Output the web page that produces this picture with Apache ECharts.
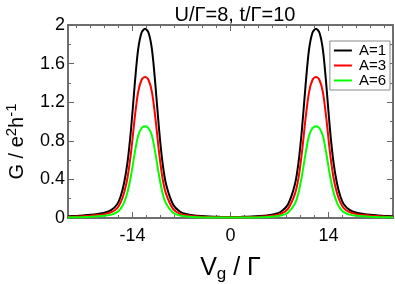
<!DOCTYPE html>
<html><head><meta charset="utf-8">
<script src="https://cdn.jsdelivr.net/npm/echarts@6/dist/echarts.min.js"></script>
<style>html,body{margin:0;padding:0;background:#fff}#c{width:395px;height:284px}</style>
</head><body><div id="c"></div>
<script>
const title = 'U/\u0393=8, t/\u0393=10';
const seriesNames = ['A=1', 'A=3', 'A=6'];
const xMajorTicks = [-14, 0, 14];
const xMinorTicks = [-22,-20,-18,-16,-14,-12,-10,-8,-6,-4,-2,0,2,4,6,8,10,12,14,16,18,20,22];
const vg = [-23.2,-22,-21,-20,-19,-18,-17,-16.2,-15.7,-15.2,-14.7,-14.2,-13.7,-13.2,-12.7,-12.2,-11.7,-11.2,-10.7,-10.2,-9.7,-9.2,-8.2,-7.2,-6.2,-5.2,-4.2,-3,-1.5,0,
  1.5,3,4.2,5.2,6.2,7.2,8.2,9.2,9.7,10.2,10.7,11.2,11.7,12.2,12.7,13.2,13.7,14.2,14.7,15.2,15.7,16.2,17,18,19,20,21,22,23.2];
const gA1 = [0.018,0.022,0.027,0.033,0.042,0.055,0.085,0.14,0.22,0.36,0.58,0.92,1.36,1.74,1.92,1.96,1.92,1.74,1.36,0.92,0.57,0.35,0.14,0.065,0.038,0.027,0.02,0.015,0.012,0.011,
  0.012,0.015,0.02,0.027,0.038,0.065,0.14,0.35,0.57,0.92,1.36,1.74,1.92,1.96,1.92,1.74,1.36,0.92,0.58,0.36,0.22,0.14,0.085,0.055,0.042,0.033,0.027,0.022,0.018];
const gA3 = [0.012,0.015,0.019,0.024,0.030,0.040,0.060,0.10,0.16,0.26,0.42,0.68,1.02,1.30,1.43,1.46,1.43,1.30,1.02,0.68,0.41,0.25,0.095,0.043,0.026,0.018,0.013,0.010,0.008,0.008,
  0.008,0.010,0.013,0.018,0.026,0.043,0.095,0.25,0.41,0.68,1.02,1.30,1.43,1.46,1.43,1.30,1.02,0.68,0.42,0.26,0.16,0.10,0.060,0.040,0.030,0.024,0.019,0.015,0.012];
const gA6 = [0.006,0.008,0.010,0.013,0.017,0.023,0.035,0.06,0.095,0.16,0.27,0.44,0.66,0.85,0.93,0.95,0.93,0.85,0.66,0.44,0.26,0.15,0.055,0.026,0.015,0.010,0.007,0.005,0.004,0.004,
  0.004,0.005,0.007,0.010,0.015,0.026,0.055,0.15,0.26,0.44,0.66,0.85,0.93,0.95,0.93,0.85,0.66,0.44,0.27,0.16,0.095,0.06,0.035,0.023,0.017,0.013,0.010,0.008,0.006];

const font = "'Liberation Sans', Arial, sans-serif";
const frame = '#666';
const pairs = arr => vg.map((x, i) => [x, arr[i]]);

function xAx(pos, ticks, len, labels) {
  return {
    type: 'value', position: pos, min: -23.2, max: 23.2,
    axisLine: { show: true, onZero: false, lineStyle: { color: frame, width: 1.5 } },
    axisTick: { show: true, inside: true, length: len, customValues: ticks, lineStyle: { color: frame, width: 1 } },
    axisLabel: labels ? { show: true, customValues: ticks, color: '#000', fontSize: 18, fontFamily: font, margin: 9 } : { show: false },
    splitLine: { show: false }
  };
}
function yAx(pos, interval, len, labels) {
  return {
    type: 'value', position: pos, min: 0, max: 2, interval: interval,
    axisLine: { show: true, onZero: false, lineStyle: { color: frame, width: 1.5 } },
    axisTick: { show: true, inside: true, length: len, lineStyle: { color: frame, width: 1 } },
    axisLabel: labels ? { show: true, color: '#000', fontSize: 18, fontFamily: font, margin: 3,
      formatter: v => (Math.round(v * 10) / 10).toString() } : { show: false },
    splitLine: { show: false }
  };
}

const xAxes = [xAx('bottom', xMajorTicks, 6, true), xAx('bottom', xMinorTicks, 3, false),
               xAx('top', xMajorTicks, 6, false), xAx('top', xMinorTicks, 3, false)];
xAxes[0].name = '{a|V}{s|g}{a| / \u0393}';
xAxes[0].nameLocation = 'middle';
xAxes[0].nameGap = 36;
xAxes[0].nameTextStyle = { rich: { a: { fontSize: 25, fontFamily: font, color: '#000' }, s: { fontSize: 17, fontFamily: font, color: '#000', verticalAlign: 'bottom', padding: [12, 0, 0, 0] } } };

const yAxes = [yAx('left', 0.4, 6, true), yAx('left', 0.2, 3, false), yAx('right', 0.4, 6, false), yAx('right', 0.2, 3, false)];
yAxes[0].name = '{a|G / e}{s|2}{a|h}{s|-1}';
yAxes[0].nameLocation = 'middle';
yAxes[0].nameGap = 38;
yAxes[0].nameTextStyle = { padding: [0, 40, 0, 0], rich: { a: { fontSize: 20, fontFamily: font, color: '#000' }, s: { fontSize: 15, fontFamily: font, color: '#000', verticalAlign: 'top', padding: [0, 0, 11, 0] } } };

const colors = ['#000000', '#ff0000', '#00ff00'];
const dataSets = [gA1, gA3, gA6];

const chart = echarts.init(document.getElementById('c'), null, { renderer: 'canvas' });
chart.setOption({
  animation: false,
  backgroundColor: '#fff',
  title: { text: title, left: 230, textAlign: 'center', top: 0, textStyle: { fontSize: 20, fontWeight: 'normal', fontFamily: font, color: '#000' } },
  grid: { left: 68, right: 2, top: 25, bottom: 66, containLabel: false, outerBoundsMode: 'none' },
  legend: {
    data: seriesNames, orient: 'vertical', right: 5, top: 41,
    backgroundColor: '#fff', borderColor: '#888', borderWidth: 1, borderRadius: 0,
    padding: [2, 4, 2, 4], itemGap: 0, itemWidth: 18, itemHeight: 2, icon: 'rect',
    textStyle: { fontSize: 15, fontFamily: font, color: '#000', lineHeight: 13, padding: [0, 0, 0, 2] }
  },
  xAxis: xAxes,
  yAxis: yAxes,
  series: dataSets.map((d, i) => ({
    name: seriesNames[i], type: 'line', xAxisIndex: 0, yAxisIndex: 0,
    data: pairs(d), showSymbol: false, symbol: 'none', smooth: 0.3,
    lineStyle: { color: colors[i], width: 2 }, itemStyle: { color: colors[i] }, z: 2 + i
  }))
});
</script></body></html>
